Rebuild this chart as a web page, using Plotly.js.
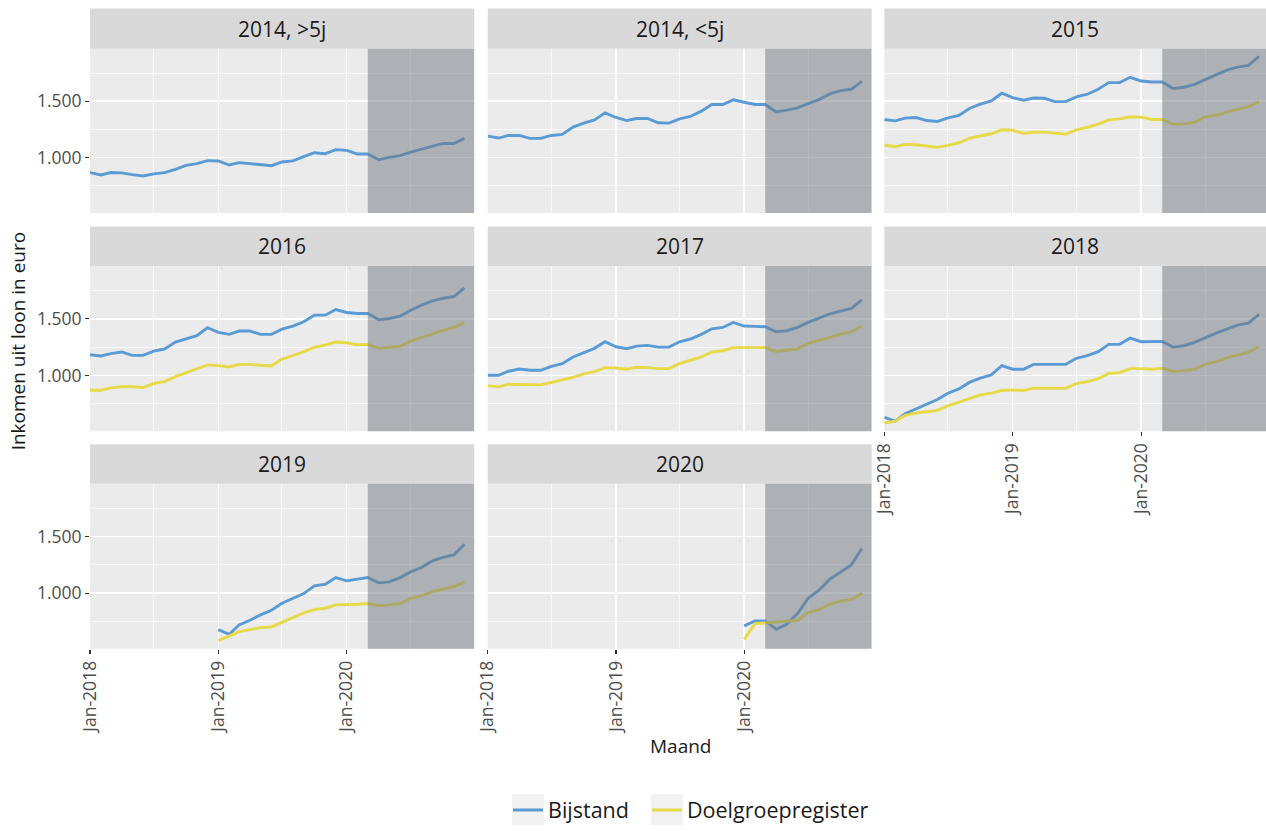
<!DOCTYPE html>
<html>
<head>
<meta charset="utf-8">
<script src="https://cdn.plot.ly/plotly-3.0.1.min.js"></script>
<style>html,body{margin:0;padding:0;background:#fff;}#chart{width:1266px;height:831px;}</style>
</head>
<body>
<div id="chart"></div>
<script>
// ---------- data ----------
const months = ['2018-01-01','2018-02-01','2018-03-01','2018-04-01','2018-05-01','2018-06-01',
  '2018-07-01','2018-08-01','2018-09-01','2018-10-01','2018-11-01','2018-12-01',
  '2019-01-01','2019-02-01','2019-03-01','2019-04-01','2019-05-01','2019-06-01',
  '2019-07-01','2019-08-01','2019-09-01','2019-10-01','2019-11-01','2019-12-01',
  '2020-01-01','2020-02-01','2020-03-01','2020-04-01','2020-05-01','2020-06-01',
  '2020-07-01','2020-08-01','2020-09-01','2020-10-01','2020-11-01','2020-12-01'];

const panelTitles = ['2014, >5j','2014, <5j','2015','2016','2017','2018','2019','2020'];
const seriesNames = ['Bijstand','Doelgroepregister'];

const bij2014gt5 = [868,847,868,865,850,838,856,868,897,932,947,974,971,935,956,947,938,929,962,971,1009,1044,1035,1071,1065,1032,1032,982,1003,1018,1050,1074,1103,1126,1126,1171];
const bij2014lt5 = [1191,1174,1197,1197,1171,1171,1197,1206,1271,1306,1335,1397,1356,1329,1347,1347,1309,1306,1344,1365,1412,1471,1471,1512,1491,1471,1471,1406,1421,1441,1479,1515,1565,1594,1606,1676];
const bij2015 = [1338,1326,1350,1356,1329,1321,1353,1374,1438,1474,1503,1571,1532,1509,1529,1526,1497,1497,1538,1562,1606,1665,1665,1712,1679,1671,1671,1612,1624,1650,1691,1735,1776,1803,1818,1897];
const dgr2015 = [1112,1097,1118,1115,1103,1091,1109,1132,1174,1194,1212,1247,1244,1215,1226,1226,1218,1209,1247,1268,1297,1335,1344,1362,1359,1338,1338,1294,1300,1312,1362,1376,1403,1429,1453,1497];
const bij2016 = [1184,1173,1193,1208,1178,1178,1216,1234,1295,1325,1351,1421,1380,1363,1392,1392,1363,1363,1409,1436,1474,1532,1532,1582,1556,1547,1547,1491,1503,1523,1576,1620,1658,1681,1696,1772];
const dgr2016 = [871,871,892,901,901,895,930,947,991,1026,1056,1094,1088,1076,1099,1099,1091,1085,1146,1175,1211,1249,1269,1295,1289,1272,1275,1240,1249,1257,1304,1339,1368,1398,1424,1471];
const bij2017 = [1003,1003,1038,1058,1047,1047,1082,1105,1164,1202,1240,1298,1254,1237,1260,1266,1251,1251,1298,1322,1363,1412,1424,1468,1436,1433,1430,1386,1395,1424,1468,1506,1544,1567,1591,1667];
const dgr2017 = [912,901,924,924,924,918,939,959,985,1015,1035,1070,1067,1056,1073,1070,1061,1061,1105,1135,1164,1208,1219,1246,1249,1246,1246,1211,1225,1234,1284,1307,1336,1366,1383,1439];
const bij2018 = [632,599,664,705,749,789,845,883,942,977,1006,1088,1056,1056,1099,1099,1099,1099,1152,1175,1211,1275,1275,1330,1298,1298,1301,1251,1263,1292,1333,1374,1409,1444,1462,1538];
const dgr2018 = [582,599,649,670,681,693,734,766,795,830,845,868,874,868,889,889,889,889,930,947,974,1018,1026,1061,1061,1056,1064,1035,1044,1056,1099,1123,1158,1184,1205,1254];
const bij2019 = [679,638,721,762,809,850,912,956,997,1065,1079,1138,1109,1124,1138,1091,1100,1138,1188,1226,1285,1315,1338,1432];
const dgr2019 = [582,621,662,679,697,703,744,785,826,856,868,897,897,903,909,891,897,909,956,976,1015,1035,1059,1097];
const bij2020 = [712,756,756,682,726,821,956,1026,1124,1188,1250,1394];
const dgr2020 = [594,732,738,747,756,762,829,856,903,932,944,1000];

const yTickVals = [1000, 1500];
const yTickText = ['1.000', '1.500'];
const yMinorVals = [750, 1250, 1750];
const xTickVals = ['2018-01-01', '2019-01-01', '2020-01-01'];
const xTickText = ['Jan-2018', 'Jan-2019', 'Jan-2020'];
const xMinorVals = ['2018-07-01', '2019-07-01', '2020-07-01'];
const shadeStart = '2020-03-01';

// ---------- layout geometry ----------
const W = 1266, H = 831;
const colPx = [[90, 474.3], [487.7, 871.7], [884.3, 1266]];
const rowPx = [[49, 214], [267.3, 433.3], [486, 652]];
const stripPx = [[8.5, 49], [227.5, 267.3], [446.5, 486]];
const xEnd = ['2020-12-29', '2020-12-29', '2020-12-21'];
const BLUE = '#5B9BD5', YELLOW = '#E6DA48';
const FONT = 'Open Sans, Noto Sans, sans-serif';
const TICKSIZE = 17.5;

const panelSeries = [
  [{name: 0, x: months, y: bij2014gt5}],
  [{name: 0, x: months, y: bij2014lt5}],
  [{name: 0, x: months, y: bij2015}, {name: 1, x: months, y: dgr2015}],
  [{name: 0, x: months, y: bij2016}, {name: 1, x: months, y: dgr2016}],
  [{name: 0, x: months, y: bij2017}, {name: 1, x: months, y: dgr2017}],
  [{name: 0, x: months, y: bij2018}, {name: 1, x: months, y: dgr2018}],
  [{name: 0, x: months.slice(12), y: bij2019}, {name: 1, x: months.slice(12), y: dgr2019}],
  [{name: 0, x: months.slice(24), y: bij2020}, {name: 1, x: months.slice(24), y: dgr2020}]
];

const traces = [];
const layout = {
  width: W, height: H,
  margin: {l: 0, r: 0, t: 0, b: 0},
  paper_bgcolor: '#ffffff',
  plot_bgcolor: '#EBEBEB',
  font: {family: FONT, color: '#4D4D4D'},
  showlegend: true,
  legend: {
    orientation: 'h', x: 508 / W, xanchor: 'left', y: 1 - 814 / H, yanchor: 'middle',
    font: {size: 21.5, color: '#1A1A1A', family: FONT}, bgcolor: 'rgba(0,0,0,0)',
    traceorder: 'normal'
  },
  shapes: [], annotations: []
};

// legend key backgrounds (drawn first so they sit under everything else)
const keyBoxes = [[512, 544], [651, 683]];
keyBoxes.forEach(b => layout.shapes.push({
  type: 'rect', xref: 'paper', yref: 'paper',
  x0: b[0] / W, x1: b[1] / W, y0: 1 - 829 / H, y1: 1 - 798 / H,
  fillcolor: '#F2F2F2', opacity: 1, line: {width: 0}, layer: 'above'
}));

const shownLegend = {};
for (let p = 0; p < 8; p++) {
  const r = Math.floor(p / 3), c = p % 3;
  const ax = p === 0 ? '' : String(p + 1);
  const xa = 'xaxis' + ax, ya = 'yaxis' + ax;
  const bottomPanel = (p === 5 || p === 6 || p === 7);
  const leftPanel = (c === 0);
  layout[xa] = {
    domain: [colPx[c][0] / W, colPx[c][1] / W],
    anchor: 'y' + ax, type: 'date',
    range: ['2018-01-01', xEnd[c]],
    tickmode: 'array', tickvals: xTickVals, ticktext: xTickText,
    tickangle: -90, showticklabels: bottomPanel,
    ticks: bottomPanel ? 'outside' : '', ticklen: 4, tickwidth: 1.2, tickcolor: '#333333',
    tickfont: {size: TICKSIZE, color: '#4D4D4D', family: FONT},
    showgrid: true, gridcolor: '#FFFFFF', gridwidth: 1.5,
    minor: {tickmode: 'array', tickvals: xMinorVals, showgrid: true, gridcolor: '#FFFFFF', gridwidth: 0.7, ticks: ''},
    zeroline: false, showline: false, fixedrange: true
  };
  layout[ya] = {
    domain: [1 - rowPx[r][1] / H, 1 - rowPx[r][0] / H],
    anchor: 'x' + ax, range: [510, 1965],
    tickmode: 'array', tickvals: yTickVals, ticktext: yTickText,
    showticklabels: leftPanel,
    ticks: leftPanel ? 'outside' : '', ticklen: 4, tickwidth: 1.2, tickcolor: '#333333',
    tickfont: {size: TICKSIZE, color: '#4D4D4D', family: FONT},
    showgrid: true, gridcolor: '#FFFFFF', gridwidth: 1.5,
    minor: {tickmode: 'array', tickvals: yMinorVals, showgrid: true, gridcolor: '#FFFFFF', gridwidth: 0.7, ticks: ''},
    zeroline: false, showline: false, fixedrange: true
  };
  panelSeries[p].forEach(s => {
    const nm = seriesNames[s.name];
    const show = !shownLegend[nm];
    shownLegend[nm] = true;
    const tr = {
      type: 'scatter', mode: 'lines', x: s.x, y: s.y,
      xaxis: 'x' + ax, yaxis: 'y' + ax,
      name: nm, legendgroup: nm, showlegend: show,
      line: {color: s.name === 0 ? BLUE : YELLOW, width: 2.9},
      hoverinfo: 'skip'
    };
    if (show && s.name === 0) tr.legendwidth = 94;
    traces.push(tr);
  });
  // shaded period (drawn above the lines)
  layout.shapes.push({
    type: 'rect', xref: 'x' + ax, yref: 'y' + ax + ' domain',
    x0: shadeStart, x1: xEnd[c], y0: 0, y1: 1,
    fillcolor: 'rgba(112,120,128,0.5)', line: {width: 0}, layer: 'above'
  });
  // strip
  layout.shapes.push({
    type: 'rect', xref: 'paper', yref: 'paper',
    x0: colPx[c][0] / W, x1: colPx[c][1] / W,
    y0: 1 - stripPx[r][1] / H, y1: 1 - stripPx[r][0] / H,
    fillcolor: '#D9D9D9', line: {width: 0}, layer: 'below'
  });
  layout.annotations.push({
    xref: 'paper', yref: 'paper',
    x: (colPx[c][0] + colPx[c][1]) / 2 / W,
    y: 1 - (stripPx[r][0] + stripPx[r][1]) / 2 / H,
    xanchor: 'center', yanchor: 'middle', showarrow: false,
    text: panelTitles[p], font: {size: 21, color: '#1A1A1A', family: FONT}
  });
}

// axis titles
layout.annotations.push({
  xref: 'paper', yref: 'paper', x: 18 / W, y: 1 - 343 / H,
  xanchor: 'center', yanchor: 'middle', showarrow: false, textangle: -90,
  text: 'Inkomen uit loon in euro', font: {size: 19, color: '#1A1A1A', family: FONT}
});
layout.annotations.push({
  xref: 'paper', yref: 'paper', x: 680 / W, y: 1 - 750 / H,
  xanchor: 'center', yanchor: 'middle', showarrow: false,
  text: 'Maand', font: {size: 19, color: '#1A1A1A', family: FONT}
});

Plotly.newPlot('chart', traces, layout, {displayModeBar: false, staticPlot: true});
</script>
</body>
</html>
